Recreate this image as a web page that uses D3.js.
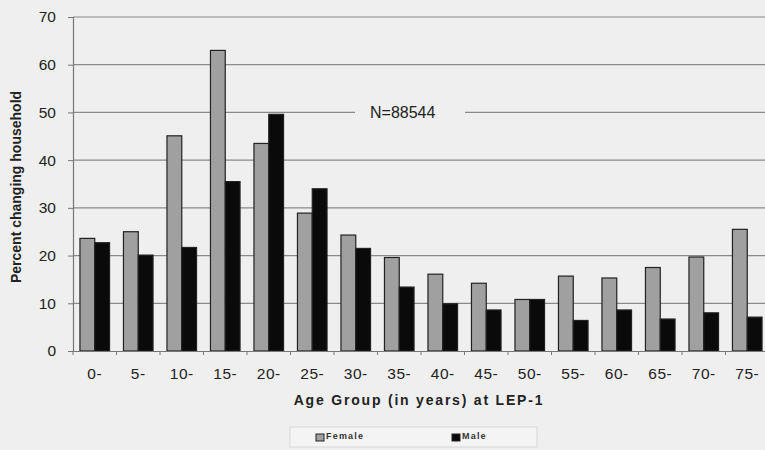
<!DOCTYPE html>
<html><head><meta charset="utf-8">
<script src="https://cdn.jsdelivr.net/npm/d3@7"></script>
<style>body{margin:0;background:#efefef;} svg{display:block;}</style>
</head><body>
<svg id="c" width="765" height="450"></svg>
<script>
const categories = ["0-","5-","10-","15-","20-","25-","30-","35-","40-","45-","50-","55-","60-","65-","70-","75-"];
const female = [23.6,25.0,45.1,63.0,43.5,28.9,24.3,19.6,16.1,14.2,10.8,15.7,15.3,17.5,19.7,25.5];
const male   = [22.7,20.1,21.7,35.5,49.6,34.0,21.5,13.4,9.9,8.6,10.8,6.4,8.6,6.7,8.0,7.1];
const yTicks = [0,10,20,30,40,50,60,70];
const seriesNames = ["Female","Male"];
const seriesColors = ["#a0a0a0","#0a0a0a"];

const svg = d3.select("#c");
const m = {l:73, t:17, r:-4, b:99};
const W = 765 - m.l - m.r, H = 450 - m.t - m.b;
svg.append("rect").attr("width",765).attr("height",450).attr("fill","#efefef");
const g = svg.append("g").attr("transform",`translate(${m.l},${m.t})`);

const x = d3.scaleBand().domain(categories).range([0,W]).paddingInner(0.32).paddingOuter(0.16);
const xs = d3.scaleBand().domain(seriesNames).range([0,x.bandwidth()]);
const y = d3.scaleLinear().domain([0,70]).range([H,0]);

// gridlines
g.append("g").selectAll("line").data(yTicks.filter(d=>d>0)).join("line")
  .attr("x1",0).attr("x2",W).attr("y1",d=>y(d)).attr("y2",d=>y(d))
  .attr("stroke","#8a8a8a").attr("stroke-width",1.2);

// y axis
const ya = g.append("g").call(d3.axisLeft(y).tickValues(yTicks).tickSize(5).tickPadding(12));
ya.select(".domain").attr("stroke","#777").attr("stroke-width",1.2);
ya.selectAll(".tick line").attr("stroke","#777");
ya.selectAll("text").attr("font-family","Liberation Sans, Arial, sans-serif").attr("font-size",15.5).attr("fill","#222");

// bars
const data = categories.map((c,i)=>({c, vals:[female[i],male[i]]}));
const grp = g.append("g").selectAll("g").data(data).join("g").attr("transform",d=>`translate(${x(d.c)},0)`);
grp.selectAll("rect").data(d=>d.vals.map((v,j)=>({v,s:seriesNames[j],j}))).join("rect")
  .attr("x",d=>xs(d.s)).attr("width",xs.bandwidth())
  .attr("y",d=>y(d.v)).attr("height",d=>H-y(d.v))
  .attr("fill",d=>seriesColors[d.j]).attr("stroke","#222").attr("stroke-width",1.2);

// x axis
const xa = g.append("g").attr("transform",`translate(0,${H})`)
  .call(d3.axisBottom(x).tickSize(0).tickPadding(17));
xa.select(".domain").attr("stroke","#777").attr("stroke-width",1.2);
xa.selectAll("text").attr("font-family","Liberation Sans, Arial, sans-serif").attr("font-size",15.5).attr("fill","#222").attr("letter-spacing","0.6px");
// boundary ticks
const step = x.step();
const bounds = d3.range(categories.length+1).map(i=> x(categories[0]) - x.paddingInner()*step/2 + i*step);
g.append("g").selectAll("line").data(bounds).join("line")
  .attr("x1",d=>d).attr("x2",d=>d).attr("y1",H).attr("y2",H+4).attr("stroke","#777");

// N label
const nl = g.append("g").attr("transform",`translate(297,${y(50)})`);
nl.append("rect").attr("x",-15).attr("y",-8).attr("width",110).attr("height",16).attr("fill","#efefef");
nl.append("text").attr("x",0).attr("y",6).text("N=88544")
  .attr("font-family","Liberation Sans, Arial, sans-serif").attr("font-size",16).attr("fill","#222");

// axis titles
svg.append("text").attr("x",419).attr("y",405).attr("text-anchor","middle")
  .attr("font-family","Liberation Sans, Arial, sans-serif").attr("font-size",14).attr("font-weight","bold")
  .attr("letter-spacing","1.8px").attr("fill","#222").text("Age Group (in years) at LEP-1");
svg.append("text").attr("transform","translate(21,187) rotate(-90)").attr("text-anchor","middle")
  .attr("font-family","Liberation Sans, Arial, sans-serif").attr("font-size",14).attr("font-weight","bold")
  .attr("fill","#222").text("Percent changing household");

// legend
const lg = svg.append("g");
lg.append("rect").attr("x",290).attr("y",427).attr("width",247).attr("height",20)
  .attr("fill","#f4f4f4").attr("stroke","#d8d8d8");
const li = lg.selectAll("g").data(seriesNames).join("g")
  .attr("transform",(d,i)=>`translate(${[316,452][i]},433)`);
li.append("rect").attr("y",1).attr("width",8).attr("height",7).attr("fill",(d,i)=>seriesColors[i]).attr("stroke","#222");
li.append("text").attr("x",10).attr("y",6).text(d=>d)
  .attr("font-family","Liberation Sans, Arial, sans-serif").attr("font-size",9).attr("font-weight","bold")
  .attr("letter-spacing","1.2px").attr("fill","#333");
</script>
</body></html>
